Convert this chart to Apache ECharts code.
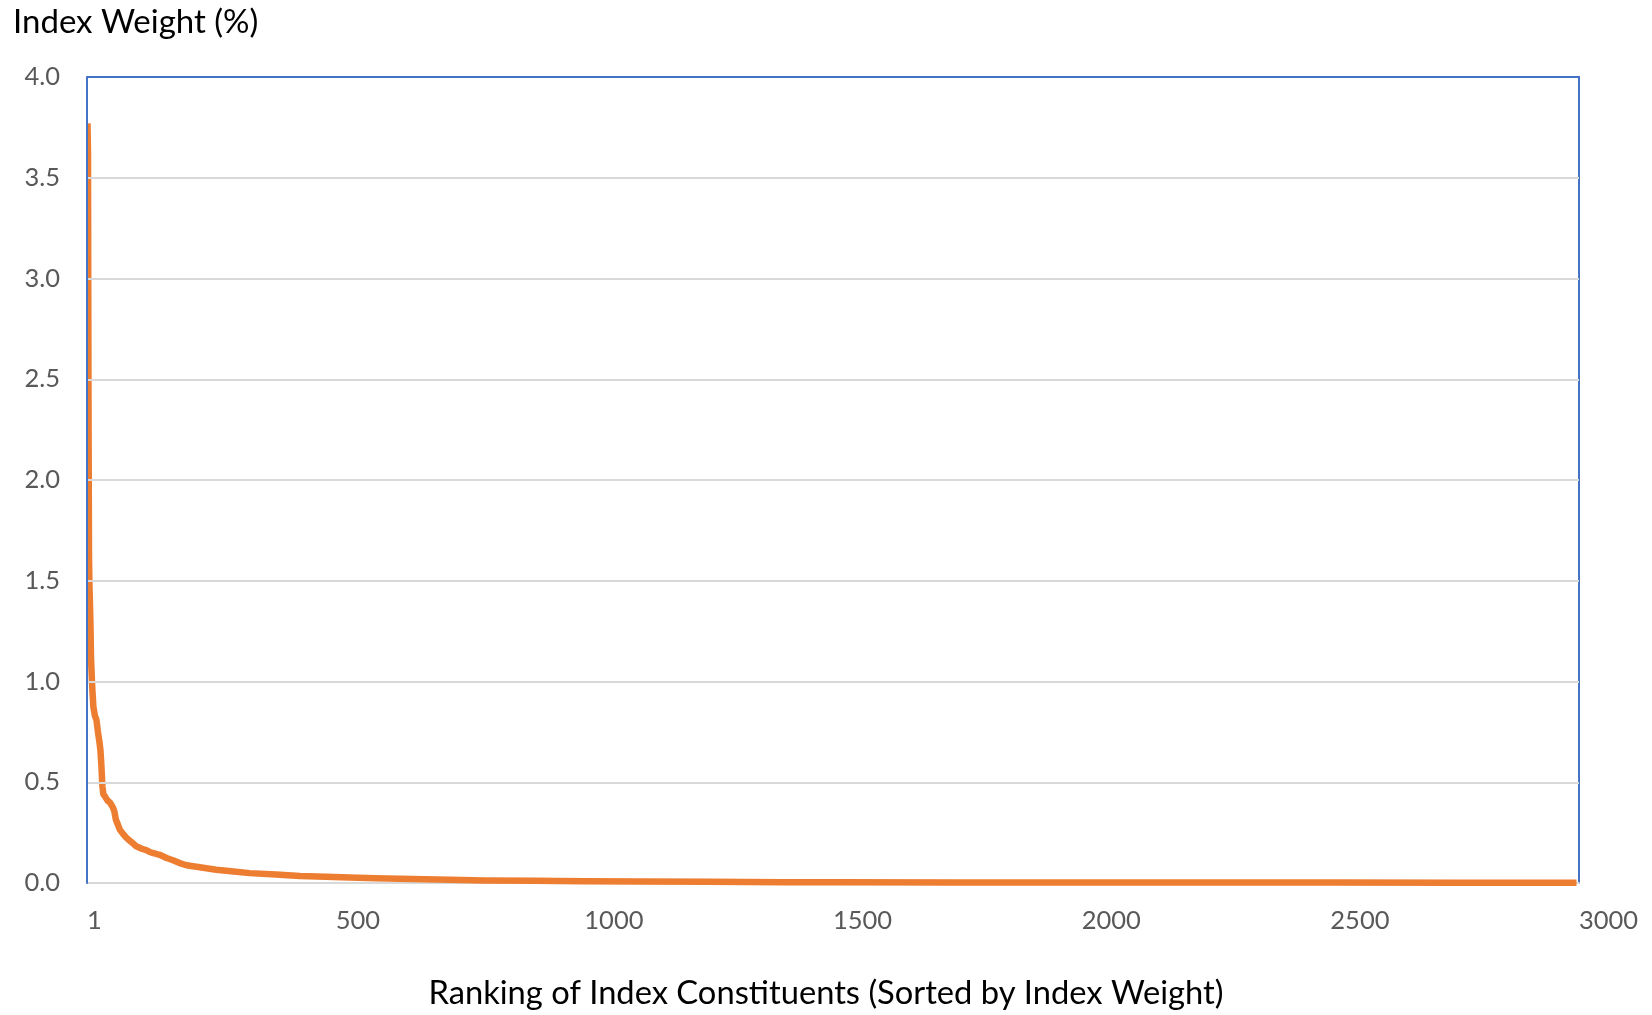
<!DOCTYPE html>
<html>
<head>
<meta charset="utf-8">
<script src="https://cdn.jsdelivr.net/npm/echarts@6/dist/echarts.min.js"></script>
<style>
html,body{margin:0;padding:0;background:#fff;}
#chart{width:1652px;height:1015px;}
</style>
</head>
<body>
<div id="chart"></div>
<script>
// Ranking of index constituents (x) and index weight in % (y)
const ranks = [1, 2, 3, 4, 5, 6, 7, 8, 10, 11, 13, 16, 19, 22, 25, 27, 29, 31, 33, 36, 41, 46, 52, 55, 58, 62, 66, 72, 79, 86, 92, 99, 110, 119, 126, 132, 146, 160, 173, 185, 200, 230, 260, 290, 327, 380, 428, 480, 528, 580, 629, 680, 729, 800, 900, 1000, 1111, 1250, 1400, 1513, 1750, 2000, 2250, 2500, 2750, 2995];
const weights = [3.77, 3.62, 2.40, 1.62, 1.47, 1.38, 1.28, 1.12, 1.00, 0.95, 0.87, 0.83, 0.81, 0.75, 0.70, 0.66, 0.58, 0.48, 0.44, 0.43, 0.41, 0.40, 0.375, 0.355, 0.315, 0.29, 0.265, 0.245, 0.225, 0.21, 0.198, 0.182, 0.17, 0.163, 0.154, 0.149, 0.14, 0.124, 0.113, 0.100, 0.088, 0.077, 0.066, 0.058, 0.049, 0.042, 0.035, 0.031, 0.027, 0.024, 0.021, 0.018, 0.016, 0.013, 0.011, 0.009, 0.007, 0.006, 0.004, 0.004, 0.003, 0.003, 0.002, 0.002, 0.001, 0.001];
const xTickValues = [0, 500, 1000, 1500, 2000, 2500, 3000];
const xTickLabels = ['1', '500', '1000', '1500', '2000', '2500', '3000'];
const yTickValues = [0, 0.5, 1, 1.5, 2, 2.5, 3, 3.5, 4];
const yTitle = 'Index Weight (%)';
const xTitle = 'Ranking of Index Constituents (Sorted by Index Weight)';

const chart = echarts.init(document.getElementById('chart'), null, {renderer: 'canvas'});
const FONT = 'Lato';
const data = ranks.map((r, i) => [r, weights[i]]);
const GL = 87, GR = 73, GT = 77, GB = 132;

chart.setOption({
  animation: false,
  backgroundColor: '#ffffff',
  title: [
    {text: yTitle, left: 8, top: 1, textStyle: {fontFamily: FONT, fontSize: 33, fontWeight: 'normal', color: '#000000'}},
    {text: xTitle, left: 'center', top: 972, textStyle: {fontFamily: FONT, fontSize: 32.7, fontWeight: 'normal', color: '#000000'}}
  ],
  // white mask so the series appears clipped at the plot's left edge (as in the reference)
  graphic: [{
    type: 'rect', z: 100, silent: true,
    shape: {x: GL - 8, y: GT - 2, width: 8, height: 1015 - GT - GB + 4},
    style: {fill: '#ffffff'}
  }],
  grid: {left: GL, right: GR, top: GT, bottom: GB, show: true, borderColor: '#4472C4', borderWidth: 2, backgroundColor: 'transparent'},
  xAxis: {
    type: 'value', min: 0, max: 3000, interval: 500,
    axisLine: {show: true, lineStyle: {color: '#D9D9D9', width: 2}},
    axisTick: {show: false},
    splitLine: {show: false},
    axisLabel: {
      fontFamily: FONT, fontSize: 25.5, color: '#595959', align: 'left', margin: 25,
      showMaxLabel: true,
      formatter: v => { const k = xTickValues.indexOf(v); return k >= 0 ? xTickLabels[k] : ''; }
    }
  },
  yAxis: {
    type: 'value', min: yTickValues[0], max: yTickValues[yTickValues.length - 1], interval: 0.5,
    z: 110,
    axisLine: {show: true, lineStyle: {color: '#4472C4', width: 2}},
    axisTick: {show: false},
    splitLine: {show: true, showMaxLine: false, showMinLine: false, lineStyle: {color: '#D9D9D9', width: 2}},
    axisLabel: {fontFamily: FONT, fontSize: 25.5, color: '#595959', margin: 27, formatter: v => v.toFixed(1)}
  },
  series: [{
    type: 'line', data: data, showSymbol: false, symbol: 'none',
    lineStyle: {color: '#ED7D31', width: 6.5, join: 'round', cap: 'butt'},
    clip: false, z: 5
  }]
});
</script>
</body>
</html>
